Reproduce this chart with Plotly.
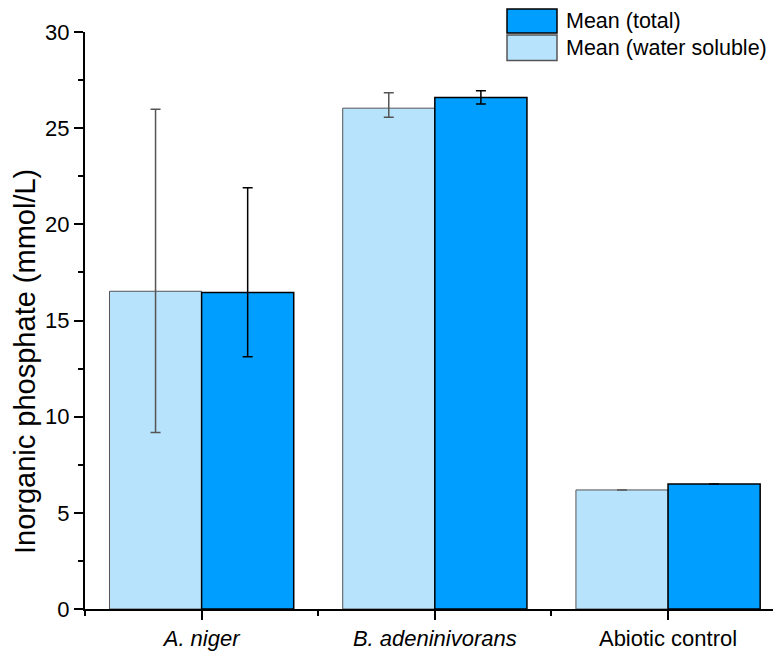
import plotly.graph_objects as go

categories = ["A. niger", "B. adeninivorans", "Abiotic control"]
tick_labels = ["<i>A. niger</i>", "<i>B. adeninivorans</i>", "Abiotic control"]
water_soluble = [16.52, 26.04, 6.19]
water_err_plus = [9.47, 0.80, None]
water_err_minus = [7.34, 0.47, None]
total = [16.45, 26.59, 6.50]
total_err_plus = [5.45, 0.36, None]
total_err_minus = [3.33, 0.33, None]
y_title = "Inorganic phosphate (mmol/L)"

W, H = 773, 652
L, R, T, B = 85, 0, 32, 43
FONT = "Liberation Sans, Arial, sans-serif"
LIGHT = "#B8E3FC"
DARK = "#009FFF"

xs = list(range(len(categories)))

fig = go.Figure()
fig.add_trace(go.Bar(
    x=xs, y=water_soluble, name="Mean (water soluble)",
    marker=dict(color=LIGHT, line=dict(color="#555555", width=1)),
    error_y=dict(type="data", symmetric=False, array=water_err_plus, arrayminus=water_err_minus,
                 color="#555555", thickness=1.5, width=5),
    showlegend=False,
))
fig.add_trace(go.Bar(
    x=xs, y=total, name="Mean (total)",
    marker=dict(color=DARK, line=dict(color="#000000", width=1.5)),
    error_y=dict(type="data", symmetric=False, array=total_err_plus, arrayminus=total_err_minus,
                 color="#000000", thickness=1.5, width=5),
    showlegend=False,
))

def px_x(p):
    return (p - L) / (W - L - R)

def px_y(p):
    return (H - B - p) / (H - T - B)

# manual legend (large swatches like the original)
legend_items = [("Mean (total)", DARK, "#000000", 9, 33, 21),
                ("Mean (water soluble)", LIGHT, "#555555", 35, 60.5, 48)]
for text, fill, edge, y0, y1, yc in legend_items:
    fig.add_shape(type="rect", xref="paper", yref="paper",
                  x0=px_x(507), x1=px_x(557), y0=px_y(y1), y1=px_y(y0),
                  fillcolor=fill, line=dict(color=edge, width=1.5))
    fig.add_annotation(xref="paper", yref="paper", x=px_x(564), y=px_y(yc),
                       text=text, showarrow=False, xanchor="left", yanchor="middle",
                       font=dict(family=FONT, size=21.5, color="#000000"))

# y-axis title, placed like the original (slightly below axis centre)
fig.add_annotation(xref="paper", yref="paper", x=px_x(25), y=px_y(362),
                   text=y_title, showarrow=False, textangle=-90,
                   xanchor="center", yanchor="middle",
                   font=dict(family=FONT, size=29, color="#000000"))

fig.update_layout(
    width=W, height=H,
    margin=dict(l=L, r=R, t=T, b=B, autoexpand=False),
    paper_bgcolor="white", plot_bgcolor="white",
    barmode="group", bargap=0.21, bargroupgap=0,
    font=dict(family=FONT, size=22, color="#000000"),
)
fig.update_xaxes(
    range=[-0.5, 2.45], tickmode="array", tickvals=xs, ticktext=tick_labels,
    showline=True, linecolor="black", linewidth=2, showgrid=False, zeroline=False,
    ticks="outside", ticklen=9, tickwidth=1.5, tickcolor="black",
    tickfont=dict(family=FONT, size=22),
    minor=dict(tickmode="array", tickvals=[-0.5, 0.5, 1.5], ticks="outside", ticklen=5,
               tickwidth=1.5, tickcolor="black"),
)
fig.update_yaxes(
    range=[0, 30], tickmode="array", tickvals=[0, 5, 10, 15, 20, 25, 30],
    showline=True, linecolor="black", linewidth=2, showgrid=False, zeroline=False,
    ticks="outside", ticklen=9, tickwidth=1.5, tickcolor="black",
    tickfont=dict(family=FONT, size=22),
    minor=dict(tickmode="array", tickvals=[2.5, 7.5, 12.5, 17.5, 22.5, 27.5], ticks="outside",
               ticklen=5, tickwidth=1.5, tickcolor="black"),
)

fig.write_html("out.html")
